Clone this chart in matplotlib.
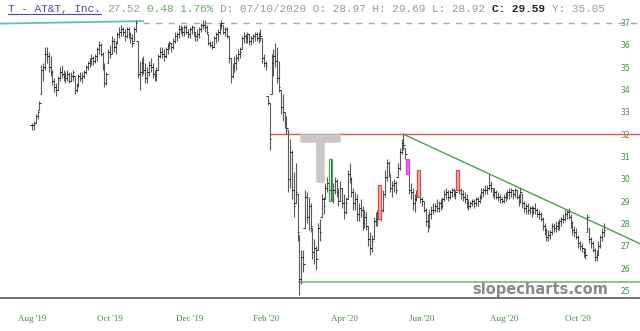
import numpy as np
import matplotlib
matplotlib.use('Agg')
import matplotlib.pyplot as plt
import matplotlib.patheffects as pe
from matplotlib.patches import Rectangle
from matplotlib.lines import Line2D

# daily bars, Aug '19 .. Oct '20
highs = [
    32.5, 32.6, 32.9, 33.1, 33.5, 35.1, 35.2, 35.9, 35.9, 35.7,
    35.5, 34.9, 34.5, 34.3, 34.6, 35.0, 35.1, 34.9, 34.8, 34.9,
    34.8, 34.8, 34.9, 34.6, 34.3, 34.7, 34.8, 34.8, 34.9, 35.1,
    35.3, 35.4, 35.6, 35.5, 35.6, 35.9, 36.2, 36.1, 35.7, 35.2,
    34.8, 35.8, 36.0, 36.4, 36.3, 36.2, 36.6, 36.8, 36.9, 36.8,
    36.7, 36.8, 36.8, 36.6, 36.5, 36.8, 37.1, 36.2, 35.3, 35.4,
    35.5, 35.2, 35.0, 35.3, 35.4, 35.2, 34.9, 35.0, 35.6, 35.9,
    35.9, 35.8, 35.9, 36.1, 36.2, 36.1, 36.3, 36.6, 36.6, 36.9,
    36.9, 36.8, 36.9, 36.9, 36.7, 36.8, 36.9, 36.8, 36.6, 36.7,
    36.8, 37.0, 37.1, 37.1, 36.9, 36.5, 36.2, 36.2, 36.4, 36.6,
    36.7, 37.0, 37.1, 36.9, 36.8, 36.8, 36.4, 35.4, 35.2, 35.5,
    35.6, 35.8, 35.9, 36.4, 36.6, 36.5, 36.6, 36.5, 36.4, 36.5,
    36.6, 36.6, 36.6, 36.7, 36.3, 35.6, 35.3, 33.7, 33.4, 35.6,
    35.8, 36.1, 35.9, 35.3, 34.0, 33.8, 33.0, 32.8, 32.2, 31.8,
    31.3, 30.3, 30.7, 29.3, 27.5, 26.8, 26.8, 29.5, 29.4, 29.2,
    28.9, 27.8, 27.3, 27.0, 28.0, 28.2, 29.3, 29.2, 29.8, 30.1,
    29.9, 30.9, 29.8, 30.1, 30.0, 29.6, 29.9, 29.6, 29.3, 29.2,
    30.4, 30.7, 30.1, 29.6, 29.4, 29.3, 28.9, 29.1, 28.8, 28.6,
    28.5, 27.9, 27.6, 27.5, 28.3, 28.5, 28.6, 29.7, 28.8, 29.5,
    30.4, 30.9, 30.8, 30.2, 29.9, 30.0, 29.9, 30.7, 31.4, 31.8,
    32.0, 31.4, 30.9, 30.2, 29.8, 29.6, 29.3, 29.5, 30.4, 29.4,
    29.2, 29.0, 28.7, 28.4, 28.6, 28.8, 28.9, 28.9, 29.1, 29.0,
    29.1, 29.2, 29.5, 29.6, 29.5, 29.5, 29.6, 29.6, 29.5, 30.4,
    29.8, 29.6, 29.5, 29.4, 29.3, 29.1, 29.0, 29.1, 29.1, 29.2,
    29.2, 29.3, 29.6, 29.6, 29.7, 29.7, 30.2, 29.9, 29.6, 29.6,
    29.5, 29.4, 29.3, 29.2, 29.3, 29.4, 29.5, 29.6, 29.6, 29.5,
    29.6, 29.5, 29.3, 29.6, 29.3, 29.0, 28.9, 28.9, 28.8, 28.8,
    28.8, 28.9, 28.7, 28.6, 28.5, 28.3, 28.0, 27.8, 27.7, 27.7,
    28.0, 28.0, 28.1, 28.1, 28.2, 28.3, 28.4, 28.6, 28.6, 28.7,
    28.4, 28.1, 27.9, 27.8, 27.5, 27.2, 27.1, 26.9, 26.9, 28.4,
    27.8, 27.4, 27.2, 26.9, 26.8, 27.2, 27.5, 27.8, 28.0,
]
lows = [
    32.2, 32.2, 32.5, 32.7, 33.1, 33.8, 34.4, 34.9, 35.2, 34.8,
    34.6, 34.2, 33.9, 33.7, 34.0, 34.4, 34.5, 34.4, 34.3, 34.4,
    34.3, 34.4, 34.4, 33.8, 33.9, 34.1, 34.4, 34.3, 34.5, 34.7,
    34.9, 35.0, 35.1, 35.1, 35.2, 35.3, 35.6, 35.5, 34.9, 34.1,
    34.2, 35.2, 35.4, 35.6, 35.7, 35.6, 36.1, 36.3, 36.4, 36.4,
    36.2, 36.3, 36.3, 36.1, 35.9, 36.2, 36.6, 34.5, 34.0, 34.6,
    34.7, 34.3, 34.3, 34.6, 34.8, 34.5, 34.4, 34.4, 34.9, 35.4,
    35.4, 35.3, 35.4, 35.6, 35.8, 35.7, 35.8, 36.1, 36.2, 36.3,
    36.5, 36.4, 36.4, 36.5, 36.3, 36.3, 36.5, 36.4, 36.2, 36.2,
    36.3, 36.6, 36.7, 36.6, 36.5, 36.0, 35.9, 35.8, 35.9, 36.1,
    36.2, 36.5, 36.7, 36.5, 36.4, 36.3, 35.2, 34.3, 34.5, 34.8,
    34.9, 35.3, 35.4, 35.8, 36.1, 36.1, 36.1, 36.0, 36.0, 36.1,
    36.2, 36.2, 36.1, 36.2, 35.2, 35.0, 34.9, 33.3, 31.3, 33.8,
    34.6, 35.0, 34.3, 33.9, 32.9, 32.6, 32.3, 32.0, 29.4, 29.6,
    29.1, 28.3, 28.9, 27.2, 24.8, 25.3, 25.8, 27.8, 28.0, 27.7,
    27.6, 26.4, 26.2, 25.9, 26.8, 27.2, 28.3, 28.4, 29.1, 29.4,
    29.3, 29.0, 28.9, 29.3, 29.2, 28.8, 29.0, 28.7, 28.2, 28.4,
    29.1, 29.8, 29.2, 28.6, 28.6, 28.1, 28.1, 28.3, 27.7, 27.8,
    27.7, 27.0, 26.6, 26.7, 27.3, 27.9, 27.9, 28.2, 28.1, 28.5,
    29.2, 29.9, 30.1, 29.4, 29.2, 29.4, 29.3, 30.1, 30.4, 31.1,
    31.3, 30.9, 30.2, 29.3, 29.1, 28.6, 28.5, 29.0, 29.2, 28.9,
    28.8, 28.5, 27.9, 27.6, 27.8, 28.2, 28.4, 28.5, 28.5, 28.5,
    28.6, 28.7, 29.0, 29.1, 29.0, 29.1, 29.2, 29.2, 29.1, 29.5,
    29.3, 29.1, 29.0, 28.9, 28.7, 28.6, 28.7, 28.8, 28.7, 28.8,
    28.8, 28.9, 29.1, 29.2, 29.3, 29.3, 29.5, 29.4, 29.2, 29.1,
    29.1, 29.0, 28.9, 28.9, 28.9, 29.0, 29.1, 29.1, 29.2, 29.1,
    29.2, 29.1, 28.8, 28.9, 28.7, 28.5, 28.4, 28.4, 28.4, 28.3,
    28.4, 28.4, 28.3, 28.2, 28.1, 27.7, 27.5, 27.2, 27.2, 27.3,
    27.5, 27.6, 27.6, 27.7, 27.7, 27.9, 28.0, 28.1, 28.2, 28.2,
    27.8, 27.5, 27.4, 27.3, 26.9, 26.8, 26.7, 26.5, 26.4, 27.6,
    27.1, 26.9, 26.7, 26.3, 26.3, 26.6, 26.9, 27.2, 27.4,
]
closes = [
    32.4, 32.5, 32.8, 33.0, 33.4, 34.9, 35.0, 35.6, 35.5, 35.0,
    34.8, 34.4, 34.1, 34.0, 34.5, 34.8, 34.7, 34.6, 34.5, 34.7,
    34.4, 34.6, 34.8, 34.0, 34.2, 34.6, 34.5, 34.6, 34.8, 35.0,
    35.2, 35.3, 35.4, 35.3, 35.5, 35.8, 36.0, 35.6, 35.0, 34.3,
    34.7, 35.7, 35.6, 36.2, 35.9, 36.1, 36.5, 36.6, 36.7, 36.6,
    36.4, 36.7, 36.5, 36.3, 36.1, 36.7, 37.0, 34.7, 34.8, 35.2,
    34.9, 34.5, 34.8, 35.1, 35.0, 34.7, 34.6, 34.9, 35.5, 35.7,
    35.6, 35.5, 35.8, 36.0, 36.1, 35.9, 36.2, 36.4, 36.5, 36.7,
    36.8, 36.6, 36.8, 36.6, 36.5, 36.7, 36.8, 36.6, 36.4, 36.5,
    36.7, 36.9, 36.9, 36.8, 36.6, 36.1, 36.0, 35.9, 36.3, 36.5,
    36.6, 36.9, 37.0, 36.6, 36.7, 36.4, 35.4, 34.6, 35.0, 35.2,
    35.4, 35.6, 35.7, 36.3, 36.4, 36.3, 36.5, 36.2, 36.3, 36.4,
    36.5, 36.3, 36.5, 36.4, 35.4, 35.2, 35.1, 33.5, 31.8, 35.2,
    35.5, 35.3, 34.5, 34.1, 33.2, 33.0, 32.5, 32.3, 30.0, 31.2,
    29.5, 28.8, 29.4, 27.6, 25.5, 26.5, 26.2, 29.2, 28.3, 28.8,
    27.9, 26.7, 26.9, 26.4, 27.8, 27.6, 29.1, 28.8, 29.6, 29.8,
    29.5, 29.1, 29.5, 29.9, 29.4, 29.0, 29.6, 28.9, 28.5, 28.9,
    30.2, 30.0, 29.4, 28.9, 29.1, 28.4, 28.7, 28.6, 28.0, 28.3,
    27.9, 27.3, 26.9, 27.2, 28.1, 28.2, 28.4, 28.5, 28.6, 29.3,
    30.1, 30.7, 30.3, 29.6, 29.7, 29.8, 29.5, 30.5, 31.2, 31.6,
    31.5, 31.1, 30.3, 29.5, 29.4, 28.9, 29.1, 29.2, 29.3, 29.1,
    29.0, 28.6, 28.1, 27.9, 28.4, 28.6, 28.6, 28.8, 28.7, 28.9,
    28.8, 29.1, 29.3, 29.4, 29.2, 29.4, 29.5, 29.3, 29.4, 29.6,
    29.5, 29.3, 29.2, 29.1, 28.9, 28.8, 28.9, 29.0, 28.9, 29.1,
    29.0, 29.2, 29.4, 29.5, 29.5, 29.6, 29.7, 29.6, 29.3, 29.4,
    29.2, 29.2, 29.1, 29.0, 29.2, 29.3, 29.4, 29.4, 29.5, 29.3,
    29.5, 29.2, 29.0, 29.4, 28.9, 28.7, 28.8, 28.6, 28.7, 28.5,
    28.7, 28.6, 28.4, 28.4, 28.2, 27.9, 27.7, 27.4, 27.5, 27.6,
    27.9, 27.8, 27.9, 28.0, 28.1, 28.2, 28.2, 28.4, 28.5, 28.3,
    28.0, 27.7, 27.6, 27.4, 27.1, 27.0, 26.9, 26.7, 26.6, 28.3,
    27.3, 27.1, 26.8, 26.5, 26.6, 27.0, 27.4, 27.6, 27.7,
]

tick_pos = [0, 42, 85, 126, 168, 210, 254, 294]
tick_labels = ["Aug '19", "Oct '19", "Dec '19", "Feb '20", "Apr '20", "Jun '20", "Aug '20", "Oct '20"]
price_levels = list(range(25, 38))

# highlighted bars: (bar index, face, edge)
marked = [(161, 'none', '#3cb043'), (187, '#f7b0b0', '#e04848'),
          (202, '#ee66ee', '#dd44dd'), (208, '#f7b0b0', '#e04848'),
          (229, '#f7b0b0', '#e04848')]

# drawn lines (bar index, price)
teal_line = ([-17.2, 59.8], [36.96, 37.07])
dash_level = 37.0
dash_from = 59.8
red_level = 32.0
red_from = 128
down_trend = ([200, 327.4], [32.0, 27.09])
support_level = 25.37
support_from = 144

header = [
    ("T - AT&T, Inc.", 0, '#4b4b9e', 'normal'),
    ("27.52", 15, '#9a9a9a', 'normal'),
    ("0.48 1.76%", 21, '#6aa86a', 'normal'),
    ("D: 07/10/2020 O: 28.97 H: 29.69 L: 28.92", 32, '#9a9a9a', 'normal'),
    ("C: 29.59", 73, '#222222', 'bold'),
    ("Y: 35.05", 82, '#9a9a9a', 'normal'),
]

W, H = 640, 331
fig = plt.figure(figsize=(W / 100, H / 100), dpi=100)
ax = fig.add_axes([0, (H - 298) / H, 1, (298 - 14) / H])

n = len(closes)
idx = np.arange(n)
hi = np.array(highs)
lo = np.array(lows)
cl = np.array(closes)
# open tick: previous close, kept inside the bar's range
op = np.clip(np.r_[cl[0], cl[:-1]], lo, hi)

ax.vlines(idx, lo, hi, color='#5a5a5a', lw=0.8, zorder=3)
ax.hlines(op, idx - 0.8, idx, color='#222222', lw=0.7, zorder=3)
ax.hlines(cl, idx, idx + 0.8, color='#222222', lw=0.7, zorder=3)

for i, fc, ec in marked:
    ax.add_patch(Rectangle((i - 0.8, lows[i]), 1.6, highs[i] - lows[i],
                           facecolor=fc, edgecolor=ec, lw=0.9, zorder=4))

xmin, xmax = -17.2, 327.4
ax.plot(teal_line[0], teal_line[1], color='#5cc0c0', lw=1.3, zorder=2)
ax.plot([dash_from, xmax], [dash_level] * 2, color='#a8a8a8', lw=1.0,
        dashes=(4.5, 4.5), zorder=2)
ax.plot([red_from, xmax], [red_level] * 2, color='#e05555', lw=1.0, zorder=2)
ax.plot(down_trend[0], down_trend[1], color='#4f9f4f', lw=1.0, zorder=2)
ax.plot([support_from, xmax], [support_level] * 2, color='#66b866', lw=1.1, zorder=2)

ax.set_xlim(xmin, xmax)
ax.set_ylim(24.655, 37.39)

for s in ['top', 'left', 'right']:
    ax.spines[s].set_visible(False)
ax.spines['bottom'].set_color('#666666')
ax.spines['bottom'].set_linewidth(1.3)

ax.set_xticks(tick_pos)
ax.set_xticklabels(tick_labels, family='Liberation Serif', fontsize=6.5, color='#3f8f3f')
ax.tick_params(axis='x', length=0, pad=12)

ax.yaxis.tick_right()
ax.set_yticks(price_levels)
ax.set_yticklabels([str(p) for p in price_levels], fontsize=5.5, color='#3f8f3f')
ax.tick_params(axis='y', length=0, pad=-14)

# header line
cw = 6.63
for txt, pos, col, wt in header:
    fig.text((8 + pos * cw) / W, 1 - 12 / H, txt, family='Liberation Mono',
             fontsize=8, color=col, weight=wt, va='baseline', ha='left')
fig.add_artist(Line2D([8 / W, (8 + 14 * cw) / W], [1 - 13.8 / H] * 2,
                      color='#4b4b9e', lw=0.8))

# watermark T and site name
fig.text(320 / W, 1 - 181 / H, "T", family='DejaVu Sans', fontsize=45,
         color='#c8c8c8', ha='center', va='baseline', zorder=1,
         path_effects=[pe.withStroke(linewidth=1.8, foreground='#c8c8c8')])
fig.text(540 / W, 1 - 294 / H, "slopecharts.com", family='DejaVu Sans',
         fontsize=10.5, weight='bold', color='#8a8a8a', ha='center', va='baseline')

fig.savefig('out.png', dpi=100)
